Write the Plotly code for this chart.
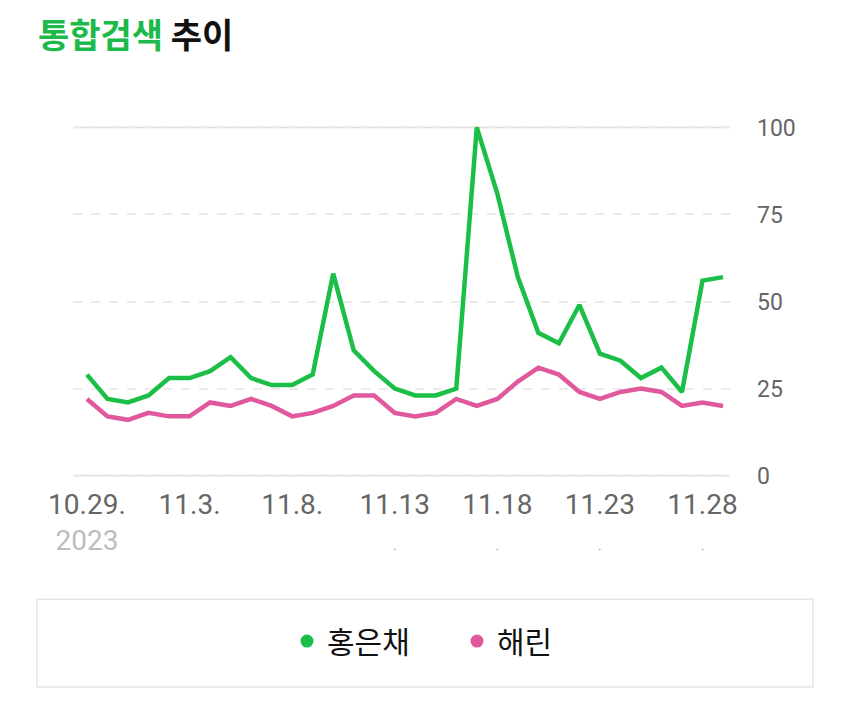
import plotly.graph_objects as go

dates = ["2023-10-29", "2023-10-30", "2023-10-31", "2023-11-01", "2023-11-02", "2023-11-03",
         "2023-11-04", "2023-11-05", "2023-11-06", "2023-11-07", "2023-11-08", "2023-11-09",
         "2023-11-10", "2023-11-11", "2023-11-12", "2023-11-13", "2023-11-14", "2023-11-15",
         "2023-11-16", "2023-11-17", "2023-11-18", "2023-11-19", "2023-11-20", "2023-11-21",
         "2023-11-22", "2023-11-23", "2023-11-24", "2023-11-25", "2023-11-26", "2023-11-27",
         "2023-11-28", "2023-11-29"]

hong_eunchae = [29, 22, 21, 23, 28, 28, 30, 34, 28, 26, 26, 29, 58, 36, 30, 25, 23, 23,
                25, 100, 81, 57, 41, 38, 49, 35, 33, 28, 31, 24, 56, 57]
haerin = [22, 17, 16, 18, 17, 17, 21, 20, 22, 20, 17, 18, 20, 23, 23, 18, 17, 18,
          22, 20, 22, 27, 31, 29, 24, 22, 24, 25, 24, 20, 21, 20]

series_names = ["홍은채", "해린"]
series_colors = ["#1bbf47", "#e0599d"]

x_tickvals = ["2023-10-29", "2023-11-03", "2023-11-08", "2023-11-13", "2023-11-18",
              "2023-11-23", "2023-11-28"]
x_ticktext = ["10.29.<br><span style='color:#bdbdbd'>2023</span>", "11.3.", "11.8.",
              "11.13<br><span style='font-size:10px'>.</span>",
              "11.18<br><span style='font-size:10px'>.</span>",
              "11.23<br><span style='font-size:10px'>.</span>",
              "11.28<br><span style='font-size:10px'>.</span>"]
y_tickvals = [0, 25, 50, 75, 100]

OFF = 8  # page body margin
W, H = 850 - 2 * OFF, 714 - 2 * OFF
L, R = 73 - OFF, 730 - OFF
T, B = 123.5 - OFF, 479.5 - OFF
pw, ph = R - L, B - T

def px_x(p):
    return (p - OFF - L) / pw

def px_y(p):
    return (B - (p - OFF)) / ph

fig = go.Figure()
for name, vals, col in zip(series_names, [hong_eunchae, haerin], series_colors):
    fig.add_trace(go.Scatter(x=dates, y=vals, mode="lines", name=name,
                             line=dict(color=col, width=4.5), showlegend=False,
                             hoverinfo="skip"))
for name, col in zip(series_names, series_colors):
    fig.add_trace(go.Scatter(x=[None], y=[None], mode="markers", name=name,
                             marker=dict(color=col, size=13), showlegend=True))

for yv in [0, 100]:
    fig.add_shape(type="line", xref="paper", yref="y", x0=0, x1=1, y0=yv, y1=yv,
                  line=dict(color="#dcdcdc", width=1.5), layer="below")

fig.add_shape(type="rect", xref="paper", yref="paper",
              x0=px_x(37), x1=px_x(813), y0=px_y(688), y1=px_y(600),
              line=dict(color="#e6e6e6", width=1.5), fillcolor="rgba(0,0,0,0)")

fig.add_annotation(text="<b><span style='color:#1db94a'>통합검색</span> 추이</b>",
                   xref="paper", yref="paper", x=px_x(36), y=px_y(33),
                   xanchor="left", yanchor="middle", showarrow=False,
                   font=dict(family="Noto Sans CJK KR", size=34, color="#111111"))

fig.update_layout(
    width=W, height=H,
    margin=dict(l=L, r=W - R, t=T, b=H - B, pad=0),
    paper_bgcolor="white", plot_bgcolor="white",
    xaxis=dict(type="date", range=["2023-10-28 07:40", "2023-11-29 08:10"],
               tickmode="array", tickvals=x_tickvals, ticktext=x_ticktext,
               showgrid=False, zeroline=False, showline=False, ticks="",
               tickfont=dict(family="Roboto", size=28, color="#666666"),
               ticklabelstandoff=6),
    yaxis=dict(range=[-1, 101], side="right", tickmode="array", tickvals=y_tickvals,
               showgrid=True, gridcolor="#ebebeb", griddash="dash", gridwidth=1.5,
               zeroline=False, showline=False, ticks="",
               tickfont=dict(family="Roboto", size=23, color="#666666"),
               ticklabelstandoff=26),
    legend=dict(orientation="h", x=px_x(457), xanchor="center", y=px_y(642), yanchor="middle",
                font=dict(family="Noto Sans CJK KR", size=30, color="#111111"),
                entrywidth=125, bgcolor="rgba(0,0,0,0)"),
    showlegend=True,
)

fig.write_html("out.html")
